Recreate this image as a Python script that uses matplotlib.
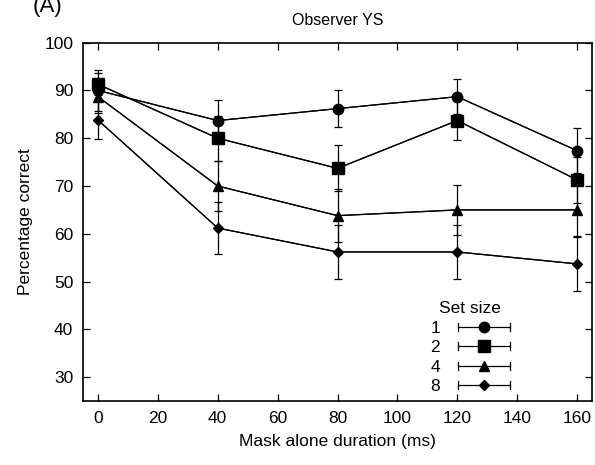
import matplotlib
matplotlib.use("Agg")
import matplotlib.pyplot as plt
from matplotlib.legend_handler import HandlerBase
from matplotlib.lines import Line2D

plt.rcParams["font.family"] = ["Liberation Sans", "DejaVu Sans"]

durations = [0, 40, 80, 120, 160]
set_sizes = ["1", "2", "4", "8"]
markers = ["o", "s", "^", "D"]
msizes = [7.5, 8, 6.5, 5.5]

pct_1 = [90.0, 83.7, 86.2, 88.7, 77.4]
pct_2 = [91.3, 80.0, 73.7, 83.7, 71.3]
pct_4 = [88.7, 70.0, 63.8, 65.0, 65.0]
pct_8 = [83.8, 61.2, 56.2, 56.2, 53.7]

err_1 = [4.3, 4.2, 3.8, 3.6, 4.7]
err_2 = [2.3, 4.7, 4.8, 4.0, 4.8]
err_4 = [3.5, 5.3, 5.5, 5.3, 5.5]
err_8 = [4.0, 5.4, 5.6, 5.6, 5.6]

series = [pct_1, pct_2, pct_4, pct_8]
errors = [err_1, err_2, err_4, err_8]


class ErrLineHandler(HandlerBase):
    # gnuplot style key: |--marker--|
    def __init__(self, marker, ms):
        super().__init__()
        self.marker = marker
        self.ms = ms

    def create_artists(self, legend, orig_handle, xdescent, ydescent,
                       width, height, fontsize, trans):
        y = height / 2 - ydescent
        x0, x1 = -xdescent, width - xdescent
        cap = 3.0
        arts = [
            Line2D([x0, x1], [y, y], color="black", lw=0.9),
            Line2D([x0, x0], [y - cap, y + cap], color="black", lw=0.9),
            Line2D([x1, x1], [y - cap, y + cap], color="black", lw=0.9),
            Line2D([(x0 + x1) / 2], [y], marker=self.marker, ms=self.ms,
                   color="black", lw=0),
        ]
        for a in arts:
            a.set_transform(trans)
        return arts


fig = plt.figure(figsize=(5.95, 4.65), dpi=100)
ax = fig.add_axes([0.1395, 0.1376, 0.8555, 0.7706])

handles = []
hmap = {}
for vals, errs, m, ms in zip(series, errors, markers, msizes):
    ax.errorbar(durations, vals, yerr=errs, fmt="-", color="black", lw=0.9,
                elinewidth=0.9, capsize=3, capthick=0.9)
    h, = ax.plot(durations, vals, marker=m, ms=ms, color="black", lw=0.9)
    handles.append(h)
    hmap[h] = ErrLineHandler(m, ms)

ax.set_xlim(-5, 165)
ax.set_ylim(25, 100)
ax.set_xticks(range(0, 161, 20))
ax.set_yticks(range(30, 101, 10))
ax.tick_params(direction="in", top=True, right=True, length=5, width=0.9,
               labelsize=12.5, pad=7)
for s in ax.spines.values():
    s.set_linewidth(1.2)

ax.set_xlabel("Mask alone duration (ms)", fontsize=12.5, labelpad=6)
ax.set_ylabel("Percentage correct", fontsize=12.5, labelpad=8)
ax.set_title("Observer YS", fontsize=11.5, pad=13)

leg = ax.legend(handles, set_sizes, handler_map=hmap, title="Set size",
                loc="lower right", bbox_to_anchor=(0.862, -0.015), frameon=False,
                markerfirst=False, handlelength=3.0, handletextpad=1.0,
                labelspacing=0.25, borderpad=0.2, fontsize=12.5,
                title_fontsize=12.5)

fig.text(0.055, 0.986, "(A)", fontsize=16, va="center", ha="left")

fig.savefig("out.png", dpi=100)
